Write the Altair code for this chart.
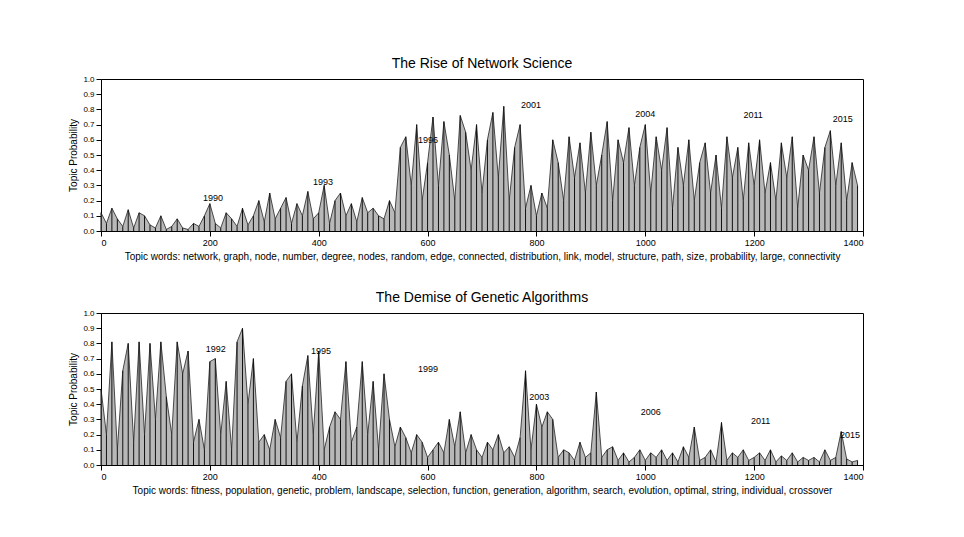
import altair as alt
import pandas as pd

step = 10
net_vals = [
    .12, .05, .15, .08, .03, .14, .02, .12, .10, .04,
    .02, .10, .01, .03, .08, .02, .01, .05, .03, .10,
    .18, .05, .02, .12, .08, .03, .15, .04, .10, .20,
    .06, .25, .08, .15, .22, .05, .18, .10, .26, .08,
    .12, .30, .05, .20, .25, .10, .18, .06, .22, .12,
    .15, .10, .08, .20, .12, .55, .62, .30, .70, .20,
    .45, .75, .30, .72, .50, .20, .76, .65, .40, .70,
    .25, .60, .78, .35, .82, .20, .55, .70, .15, .30,
    .10, .25, .15, .60, .45, .20, .62, .35, .58, .25,
    .65, .30, .50, .72, .20, .60, .45, .68, .30, .55,
    .70, .25, .62, .40, .68, .15, .55, .30, .60, .20,
    .45, .58, .25, .50, .15, .62, .35, .55, .20, .58,
    .30, .60, .25, .45, .20, .58, .35, .62, .15, .50,
    .40, .62, .25, .55, .66, .30, .58, .20, .45, .30,
]
ga_vals = [
    .50, .20, .81, .10, .62, .80, .15, .81, .20, .80,
    .30, .81, .45, .20, .81, .60, .75, .15, .30, .10,
    .68, .70, .20, .55, .10, .81, .90, .40, .70, .15,
    .20, .10, .30, .18, .55, .60, .15, .52, .72, .20,
    .75, .10, .25, .35, .30, .68, .15, .25, .68, .20,
    .55, .10, .60, .30, .12, .25, .18, .08, .20, .15,
    .05, .10, .15, .08, .30, .12, .35, .08, .20, .10,
    .05, .15, .10, .20, .08, .12, .05, .18, .62, .10,
    .40, .25, .35, .30, .05, .10, .08, .03, .15, .05,
    .08, .48, .05, .10, .12, .03, .08, .02, .05, .10,
    .03, .08, .05, .10, .03, .08, .02, .12, .05, .25,
    .03, .05, .10, .02, .28, .03, .08, .05, .10, .03,
    .05, .08, .03, .10, .02, .06, .03, .08, .02, .05,
    .03, .05, .02, .10, .03, .05, .22, .04, .02, .03,
]
net_years = ["1990", "1993", "1996", "2001", "2004", "2011", "2015"]
net_year_x = [206, 408, 601, 790, 1000, 1198, 1363]
net_year_y = [0.22, 0.32, 0.60, 0.83, 0.77, 0.76, 0.74]
ga_years = ["1992", "1995", "1999", "2003", "2006", "2011", "2015"]
ga_year_x = [211, 404, 601, 805, 1010, 1212, 1376]
ga_year_y = [0.76, 0.75, 0.63, 0.45, 0.35, 0.29, 0.20]
y_ticks = [0, 0.1, 0.2, 0.3, 0.4, 0.5, 0.6, 0.7, 0.8, 0.9, 1]

net_words = ("Topic words: network, graph, node, number, degree, nodes, random, edge, connected, "
             "distribution, link, model, structure, path, size, probability, large, connectivity")
ga_words = ("Topic words: fitness, population, genetic, problem, landscape, selection, function, "
            "generation, algorithm, search, evolution, optimal, string, individual, crossover")


def panel(vals, years, yx, yy, title, xtitle):
    df = pd.DataFrame({"doc": [i * step for i in range(len(vals))], "p": vals})
    lab = pd.DataFrame({"doc": yx, "p": yy, "year": years})
    x = alt.X("doc:Q", scale=alt.Scale(domain=[0, 1400], nice=False),
              axis=alt.Axis(values=list(range(0, 1401, 200)), format="d", grid=False, title=xtitle,
                            titleFontWeight="normal", titleFontSize=10, labelFontSize=9, titlePadding=4))
    y = alt.Y("p:Q", scale=alt.Scale(domain=[0, 1], nice=False),
              axis=alt.Axis(values=y_ticks, labelOverlap=False, tickCount=11, grid=False,
                            title="Topic Probability", titleFontWeight="normal",
                            titleFontSize=10, labelFontSize=8))
    area = alt.Chart(df).mark_area(color="#888888", opacity=0.6).encode(x=x, y=y)
    line = alt.Chart(df).mark_line(color="#222222", strokeWidth=0.8).encode(x=x, y=y)
    rules = alt.Chart(df).mark_rule(color="#111111", strokeWidth=1).encode(x=x, y=y)
    text = alt.Chart(lab).mark_text(fontSize=9, color="black").encode(x=x, y=y, text="year:N")
    return alt.layer(area, line, rules, text).properties(
        width=762, height=152,
        title=alt.TitleParams(title, fontSize=14, fontWeight="normal", offset=4),
    )


chart = alt.vconcat(
    panel(net_vals, net_years, net_year_x, net_year_y, "The Rise of Network Science", net_words),
    panel(ga_vals, ga_years, ga_year_x, ga_year_y, "The Demise of Genetic Algorithms", ga_words),
    spacing=28,
).configure_view(stroke="black").configure_axis(
    domainColor="black", tickColor="black", labelFont="Liberation Sans", titleFont="Liberation Sans"
).configure_title(font="Liberation Sans").properties(padding={"left": 60, "top": 48, "right": 20, "bottom": 10})

chart.save("out.html", embed_options={"renderer": "svg", "actions": False})
